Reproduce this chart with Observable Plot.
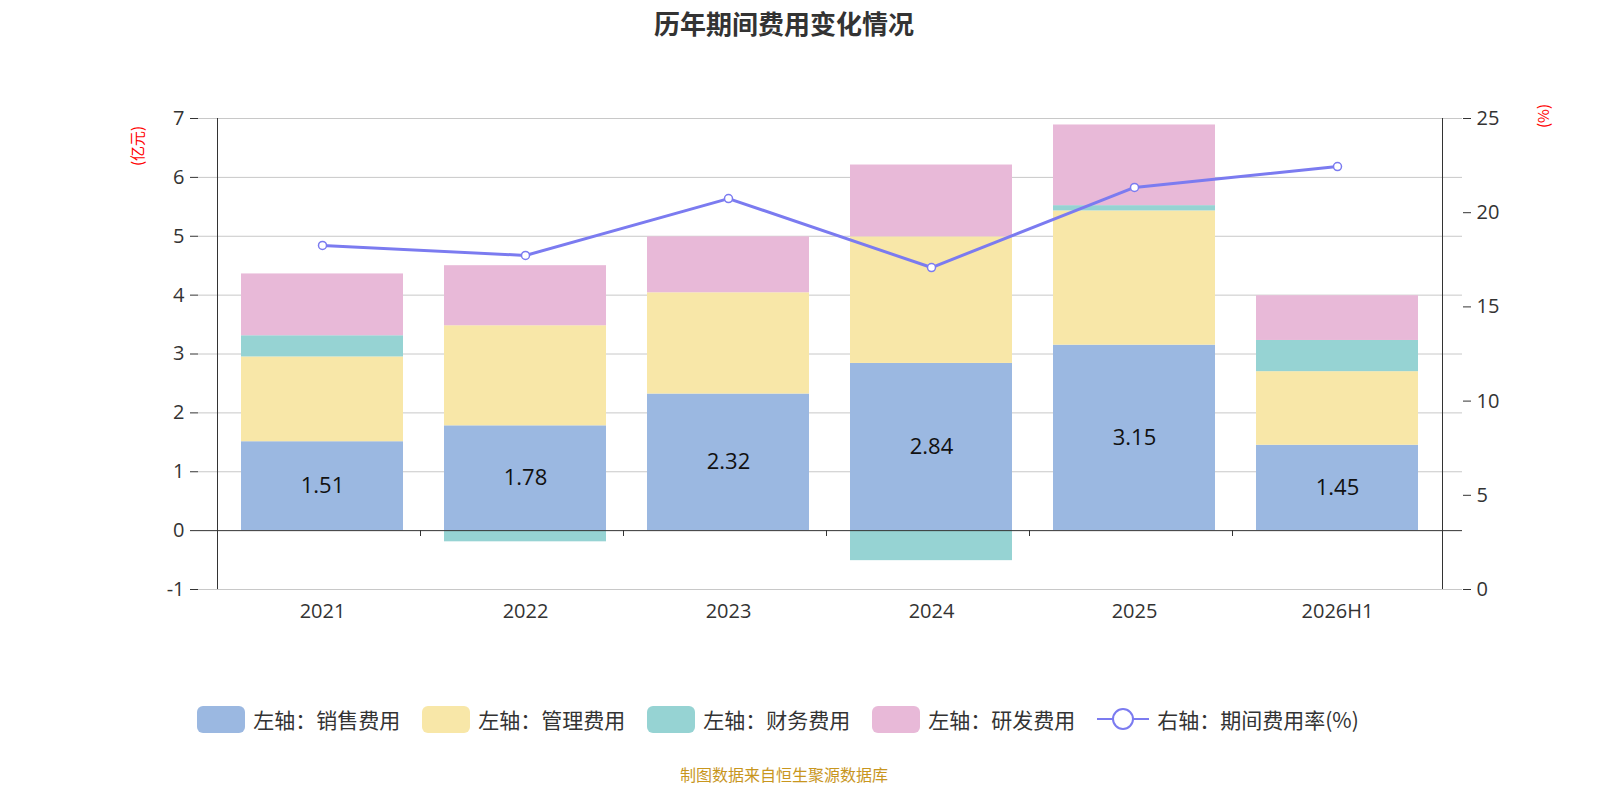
<!DOCTYPE html>
<html><head><meta charset="utf-8">
<script src="https://cdn.jsdelivr.net/npm/d3@7"></script>
<script src="https://cdn.jsdelivr.net/npm/@observablehq/plot@0.6"></script>
<style>
html,body{margin:0;padding:0;background:#fff;font-family:"Noto Sans CJK SC","Noto Sans",sans-serif;overflow:hidden;width:1600px;height:800px;}
#wrap{position:relative;width:1600px;height:800px;overflow:hidden;}
#chart{position:absolute;left:0;top:0;width:1600px;}
#chart svg{max-width:none;}
.abs{position:absolute;}
#legend{position:absolute;top:704px;left:0;width:1556px;display:flex;justify-content:center;gap:22px;font-size:21px;color:#333;}
.it{display:flex;align-items:center;gap:8px;}
.sw{width:48px;height:27px;border-radius:6px;display:inline-block;}
</style></head><body>
<div id="wrap">
<div id="chart"></div>
<div class="abs" style="top:4px;left:0;width:1568px;text-align:center;font-size:26px;font-weight:bold;color:#333;">历年期间费用变化情况</div>
<div class="abs" style="left:126px;top:166px;color:red;font-size:15px;transform:rotate(-90deg);transform-origin:left top;">(亿元)</div>
<div class="abs" style="left:1532px;top:128px;color:red;font-size:15px;transform:rotate(-90deg);transform-origin:left top;">(%)</div>
<div id="legend"></div>
<div class="abs" style="top:762px;left:0;width:1568px;text-align:center;font-size:16px;color:#c8961e;">制图数据来自恒生聚源数据库</div>
</div>
<script>
const years = ["2021","2022","2023","2024","2025","2026H1"];
const sales = [1.51,1.78,2.32,2.84,3.15,1.45];
const mgmt = [1.44,1.70,1.72,2.15,2.28,1.25];
const finance = [0.36,-0.19,0,-0.51,0.09,0.53];
const rnd = [1.05,1.02,0.95,1.22,1.37,0.76];
const rate = [18.26,17.73,20.75,17.09,21.34,22.45];
const leftTicks = [-1,0,1,2,3,4,5,6,7];
const rightTicks = [0,5,10,15,20,25];

const series = [
  {name:"销售费用", vals:sales, color:"#9bb8e1"},
  {name:"管理费用", vals:mgmt, color:"#f8e7a8"},
  {name:"财务费用", vals:finance, color:"#96d3d3"},
  {name:"研发费用", vals:rnd, color:"#e8b9d8"}
];
const rows = [];
series.forEach((s,si)=>years.forEach((y,i)=>rows.push({year:y,type:s.name,order:si,value:s.vals[i]})));
const toLeft = r => -1 + r*8/25;
const toRight = v => Math.round((v+1)*25/8);
const lineData = years.map((y,i)=>({year:y, v:toLeft(rate[i])}));
const salesData = years.map((y,i)=>({year:y, v:sales[i]}));

const chart = Plot.plot({
  width:1600, height:640,
  marginTop:118, marginBottom:51, marginLeft:198, marginRight:138,
  x:{domain:years, padding:0.2, label:null},
  y:{domain:[-1,7], label:null},
  color:{domain:series.map(s=>s.name), range:series.map(s=>s.color)},
  style:{fontFamily:"Open Sans, Noto Sans CJK SC, sans-serif"},
  marks:[
    Plot.ruleY(leftTicks.filter(t=>t!==0), {stroke:"#c8c8c8"}),
    Plot.barY(rows, Plot.stackY({x:"year", y:"value", fill:"type", order:"order"})),
    Plot.ruleY([0], {stroke:"#333"}),
    Plot.ruleX(years.slice(1), {x:d=>d, y1:0, y2:-0.1, dx:-105, stroke:"#333"}),
    Plot.ruleX([0], {x:()=>years[0], y1:-1, y2:7, dx:-105, stroke:"#333"}),
    Plot.ruleX([0], {x:()=>years[5], y1:-1, y2:7, dx:105, stroke:"#333"}),
    Plot.text(salesData, {x:"year", y:d=>d.v/2, text:d=>d.v.toFixed(2), fontSize:22, fill:"#111"}),
    Plot.axisY({anchor:"left", ticks:leftTicks, tickSize:8, tickPadding:6, fontSize:20, color:"#333", label:null, tickFormat:d=>String(d)}),
    Plot.axisY({anchor:"right", ticks:rightTicks.map(toLeft), tickFormat:toRight, tickSize:8, tickPadding:6, fontSize:20, color:"#333", label:null}),
    Plot.axisX({tickSize:0, tickPadding:14, fontSize:20, color:"#333", label:null}),
    Plot.line(lineData, {x:"year", y:"v", stroke:"#7b7bf0", strokeWidth:3}),
    Plot.dot(lineData, {x:"year", y:"v", r:4, fill:"#fff", stroke:"#7b7bf0", strokeWidth:1.5})
  ]
});
document.getElementById("chart").appendChild(chart);

const lg = document.getElementById("legend");
series.forEach(s=>{
  lg.insertAdjacentHTML("beforeend",`<div class="it"><span class="sw" style="background:${s.color}"></span>左轴：${s.name}</div>`);
});
lg.insertAdjacentHTML("beforeend",`<div class="it"><svg width="52" height="28"><line x1="0" y1="14" x2="52" y2="14" stroke="#7b7bf0" stroke-width="2"/><circle cx="26" cy="14" r="10" fill="#fff" stroke="#7b7bf0" stroke-width="2"/></svg>右轴：期间费用率(%)</div>`);
</script>
</body></html>
